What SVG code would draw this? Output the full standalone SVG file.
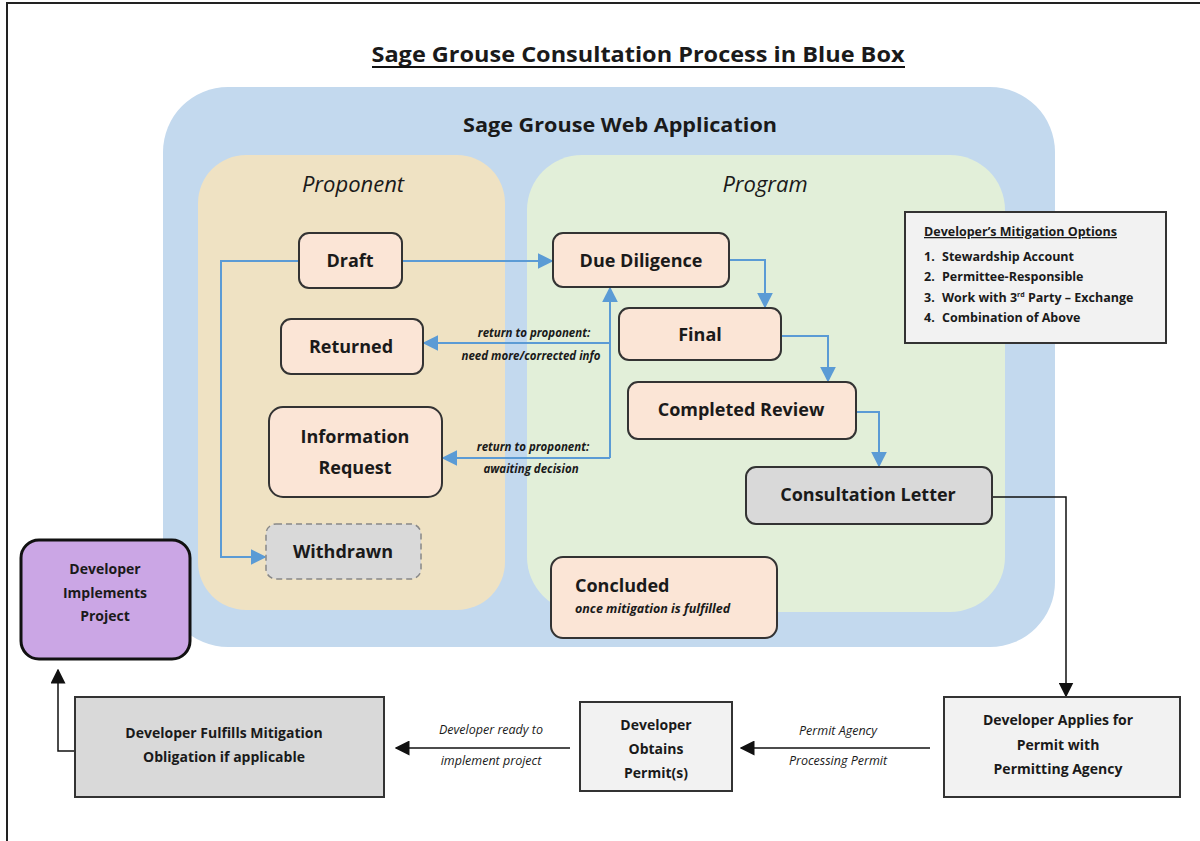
<svg xmlns="http://www.w3.org/2000/svg" width="1200" height="841" viewBox="0 0 1200 841">
<defs>
<style>
.t{font-family:"Open Sans","Noto Sans","Liberation Sans",sans-serif;fill:#1a1a1a}
.b{font-weight:bold}
.i{font-style:italic}
.node{fill:#fbe5d6;stroke:#333;stroke-width:2}
.gray{fill:#d9d9d9;stroke:#333;stroke-width:2}
.lt{fill:#f2f2f2;stroke:#333;stroke-width:2}
.bl{fill:none;stroke:#5b9bd5;stroke-width:2}
.bk{fill:none;stroke:#111;stroke-width:1.5}
</style>
<marker id="ab2" viewBox="0 0 10 10" refX="9" refY="5" markerWidth="16" markerHeight="16" markerUnits="userSpaceOnUse" orient="auto"><path d="M0,0 L10,5 L0,10 z" fill="#5b9bd5"/></marker>
<marker id="ak" viewBox="0 0 10 10" refX="9" refY="5" markerWidth="15" markerHeight="15" markerUnits="userSpaceOnUse" orient="auto"><path d="M0,0 L10,5 L0,10 z" fill="#111"/></marker>
</defs>
<rect width="1200" height="841" fill="#fff"/>
<path d="M7,845 V3 H1200" fill="none" stroke="#222" stroke-width="2"/>

<text class="t b" x="638" y="62" font-size="22" text-anchor="middle" textLength="533" lengthAdjust="spacingAndGlyphs">Sage Grouse Consultation Process in Blue Box</text>
<line x1="372" y1="67" x2="905" y2="67" stroke="#111" stroke-width="2"/>

<g id="web-app">
<rect x="163" y="87" width="892" height="560" rx="65" fill="#c3d9ee"/>
<text class="t b" x="620" y="132" font-size="20" text-anchor="middle" textLength="314" lengthAdjust="spacingAndGlyphs">Sage Grouse Web Application</text>
</g>
<g id="proponent">
<rect x="198" y="155" width="307" height="455" rx="48" fill="#efe2c3"/>
<text class="t i" x="353" y="192" font-size="22" text-anchor="middle">Proponent</text>
</g>
<g id="program">
<rect x="527" y="155" width="478" height="457" rx="55" fill="#e2efd9"/>
<text class="t i" x="765" y="192" font-size="22" text-anchor="middle">Program</text>
</g>

<g id="mitigation">
<rect x="905" y="212" width="261" height="131" class="lt"/>
<text class="t b" x="924" y="236" font-size="12.5" text-decoration="underline">Developer’s Mitigation Options</text>
<text class="t b" font-size="12.5" y="261"><tspan x="924">1.</tspan><tspan x="942">Stewardship Account</tspan></text>
<text class="t b" font-size="12.5" y="281"><tspan x="924">2.</tspan><tspan x="942">Permittee-Responsible</tspan></text>
<text class="t b" font-size="12.5" y="302"><tspan x="924">3.</tspan><tspan x="942">Work with 3</tspan><tspan font-size="7" dy="-5">rd</tspan><tspan dy="5"> Party – Exchange</tspan></text>
<text class="t b" font-size="12.5" y="322"><tspan x="924">4.</tspan><tspan x="942">Combination of Above</tspan></text>
</g>

<g id="connectors">
<path class="bl" d="M402,261 H552" marker-end="url(#ab2)"/>
<path class="bl" d="M299,261 H221 V557 H265" marker-end="url(#ab2)"/>
<path class="bl" d="M729,260 H765 V307" marker-end="url(#ab2)"/>
<path class="bl" d="M781,336 H828 V381" marker-end="url(#ab2)"/>
<path class="bl" d="M856,412 H879 V466" marker-end="url(#ab2)"/>
<path class="bl" d="M610,458 V288" marker-end="url(#ab2)"/>
<path class="bl" d="M610,343 H424" marker-end="url(#ab2)"/>
<path class="bl" d="M610,458 H443" marker-end="url(#ab2)"/>
<text class="t b i" x="534" y="337" font-size="11.5" text-anchor="middle">return to proponent:</text>
<text class="t b i" x="531" y="360" font-size="11.5" text-anchor="middle">need more/corrected info</text>
<text class="t b i" x="533" y="451" font-size="11.5" text-anchor="middle">return to proponent:</text>
<text class="t b i" x="531" y="473" font-size="11.5" text-anchor="middle">awaiting decision</text>

<path class="bk" d="M992,497 H1066 V696" marker-end="url(#ak)"/>
<path class="bk" d="M930,748 H741" marker-end="url(#ak)"/>
<path class="bk" d="M570,748 H396" marker-end="url(#ak)"/>
<path class="bk" d="M75,751 H58 V670" marker-end="url(#ak)"/>
<text class="t i" x="838" y="735" font-size="12.5" text-anchor="middle">Permit Agency</text>
<text class="t i" x="838" y="765" font-size="12.5" text-anchor="middle">Processing Permit</text>
<text class="t i" x="491" y="734" font-size="12.5" text-anchor="middle">Developer ready to</text>
<text class="t i" x="491" y="765" font-size="12.5" text-anchor="middle">implement project</text>
</g>

<g id="draft"><rect x="299" y="233" width="103" height="55" rx="10" class="node"/><text class="t b" x="350" y="267" font-size="18" text-anchor="middle">Draft</text></g>
<g id="due-diligence"><rect x="553" y="233" width="176" height="54" rx="10" class="node"/><text class="t b" x="641" y="267" font-size="18" text-anchor="middle">Due Diligence</text></g>
<g id="returned"><rect x="281" y="319" width="142" height="55" rx="10" class="node"/><text class="t b" x="351" y="353" font-size="18" text-anchor="middle">Returned</text></g>
<g id="final"><rect x="619" y="308" width="162" height="52" rx="10" class="node"/><text class="t b" x="700" y="341" font-size="18" text-anchor="middle">Final</text></g>
<g id="completed-review"><rect x="628" y="382" width="228" height="57" rx="10" class="node"/><text class="t b" x="741" y="416" font-size="18" text-anchor="middle">Completed Review</text></g>
<g id="information-request"><rect x="269" y="407" width="173" height="90" rx="14" class="node"/><text class="t b" x="355" y="443" font-size="18" text-anchor="middle">Information</text><text class="t b" x="355" y="474" font-size="18" text-anchor="middle">Request</text></g>
<g id="consultation-letter"><rect x="746" y="467" width="246" height="57" rx="10" class="gray"/><text class="t b" x="868" y="501" font-size="18" text-anchor="middle">Consultation Letter</text></g>
<g id="withdrawn"><rect x="266" y="524" width="155" height="55" rx="10" fill="#d9d9d9" stroke="#888" stroke-width="1.5" stroke-dasharray="6,4"/><text class="t b" x="343" y="558" font-size="18" text-anchor="middle">Withdrawn</text></g>
<g id="concluded"><rect x="551" y="557" width="226" height="81" rx="12" class="node"/><text class="t b" x="575" y="592" font-size="18">Concluded</text><text class="t b i" x="575" y="613" font-size="12.5">once mitigation is fulfilled</text></g>

<g id="developer-implements"><rect x="21" y="540" width="169" height="119" rx="18" fill="#cba6e5" stroke="#111" stroke-width="3"/><text class="t b" x="105" y="574" font-size="14" text-anchor="middle">Developer</text><text class="t b" x="105" y="598" font-size="14" text-anchor="middle">Implements</text><text class="t b" x="105" y="621" font-size="14" text-anchor="middle">Project</text></g>
<g id="developer-fulfills"><rect x="75" y="697" width="309" height="100" class="gray"/><text class="t b" x="224" y="738" font-size="14" text-anchor="middle">Developer Fulfills Mitigation</text><text class="t b" x="224" y="762" font-size="14" text-anchor="middle">Obligation if applicable</text></g>
<g id="developer-obtains"><rect x="580" y="702" width="152" height="89" class="lt"/><text class="t b" x="656" y="730" font-size="14" text-anchor="middle">Developer</text><text class="t b" x="656" y="754" font-size="14" text-anchor="middle">Obtains</text><text class="t b" x="656" y="778" font-size="14" text-anchor="middle">Permit(s)</text></g>
<g id="developer-applies"><rect x="944" y="697" width="236" height="100" class="lt"/><text class="t b" x="1058" y="725" font-size="14" text-anchor="middle">Developer Applies for</text><text class="t b" x="1058" y="750" font-size="14" text-anchor="middle">Permit with</text><text class="t b" x="1058" y="774" font-size="14" text-anchor="middle">Permitting Agency</text></g>
</svg>
